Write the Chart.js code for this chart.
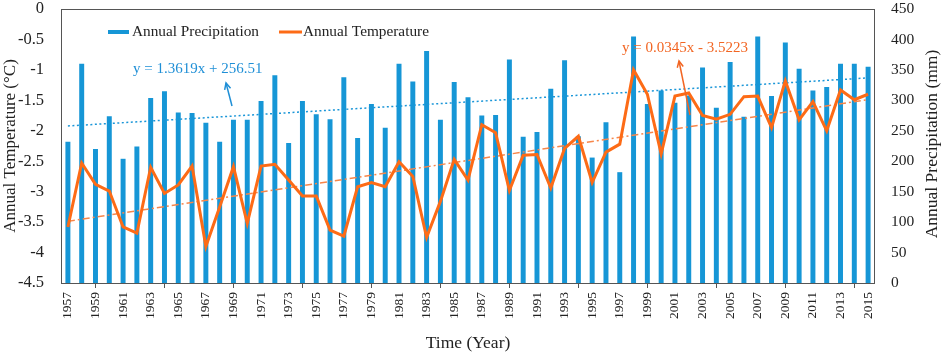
<!DOCTYPE html>
<html>
<head>
<meta charset="utf-8">
<script src="https://cdn.jsdelivr.net/npm/chart.js@4/dist/chart.umd.min.js"></script>
<style>
  html, body { margin: 0; padding: 0; background: #fff; }
  #wrap { width: 941px; height: 355px; }
</style>
</head>
<body>
<div id="wrap"><canvas id="chart" width="941" height="355"></canvas></div>
<script>
// data
const years = [];
for (let y = 1957; y <= 2015; y++) years.push(String(y));

const precipitation = [
  232, 360, 220, 274, 204, 224, 304, 315, 280, 279,
  263, 232, 268, 268, 299, 341, 230, 299, 277, 269,
  338, 238, 294, 255, 360, 331, 381, 268, 330, 305,
  275, 276, 367, 240, 248, 319, 366, 241, 206, 264,
  182, 405, 294, 316, 296, 308, 354, 288, 363, 273,
  405, 307, 395, 352, 316, 322, 360, 360, 355
];

const temperature = [
  -3.58, -2.53, -2.88, -2.99, -3.58, -3.68, -2.60, -3.03, -2.89, -2.58,
  -3.90, -3.25, -2.59, -3.52, -2.58, -2.55, -2.81, -3.07, -3.07, -3.63,
  -3.73, -2.92, -2.85, -2.92, -2.51, -2.75, -3.75, -3.16, -2.47, -2.81,
  -1.90, -2.03, -2.98, -2.40, -2.39, -2.94, -2.29, -2.09, -2.85, -2.35,
  -2.22, -1.00, -1.40, -2.38, -1.43, -1.38, -1.75, -1.81, -1.73, -1.44,
  -1.43, -1.95, -1.18, -1.82, -1.52, -2.00, -1.33, -1.49, -1.40
];

// trend equations printed on the chart (slope, intercept), x = 1..59
const precipTrend = [1.3619, 256.51];
const tempTrend = [0.0345, -3.5223];

const precipTicks = [0, 450, 50];
const tempTicks = [-4.5, 0, 0.5];

// only the two end points, the line is straight between them
function trendLine(eq) {
  const n = years.length;
  return years.map((_, i) => (i === 0 || i === n - 1) ? eq[0] * (i + 1) + eq[1] : null);
}

const FONT = "'Liberation Serif', 'Times New Roman', serif";
const BLUE = '#1696d6';
const ORANGE = '#fd6b16';
const TEXT = '#222';

// legend, equations, arrows, box and right axis title
const decor = {
  id: 'decor',
  afterDraw(chart) {
    const ctx = chart.ctx;
    const a = chart.chartArea;
    ctx.save();

    ctx.strokeStyle = '#555';
    ctx.lineWidth = 1;
    ctx.strokeRect(a.left + 0.5, a.top + 0.5, a.right - a.left - 1, a.bottom - a.top);

    // legend
    ctx.fillStyle = BLUE;
    ctx.fillRect(108, 30, 21, 4);
    ctx.strokeStyle = ORANGE;
    ctx.lineWidth = 3;
    ctx.beginPath(); ctx.moveTo(279, 32); ctx.lineTo(302, 32); ctx.stroke();
    ctx.font = '15.3px ' + FONT;
    ctx.fillStyle = TEXT;
    ctx.textBaseline = 'middle';
    ctx.textAlign = 'left';
    ctx.fillText('Annual Precipitation', 132, 32);
    ctx.fillText('Annual Temperature', 303, 32);

    // equations
    ctx.font = '15px ' + FONT;
    ctx.fillStyle = '#1f8fd6';
    ctx.fillText('y = 1.3619x + 256.51', 133, 69);
    ctx.fillStyle = '#f26522';
    ctx.fillText('y = 0.0345x - 3.5223', 622, 48);

    function arrow(x1, y1, x2, y2, col) {
      ctx.strokeStyle = col;
      ctx.lineWidth = 1.5;
      ctx.beginPath(); ctx.moveTo(x1, y1); ctx.lineTo(x2, y2); ctx.stroke();
      const ang = Math.atan2(y2 - y1, x2 - x1);
      ctx.beginPath();
      ctx.moveTo(x2 - 7 * Math.cos(ang - 0.45), y2 - 7 * Math.sin(ang - 0.45));
      ctx.lineTo(x2, y2);
      ctx.lineTo(x2 - 7 * Math.cos(ang + 0.45), y2 - 7 * Math.sin(ang + 0.45));
      ctx.stroke();
    }
    arrow(232, 106, 226, 83, '#1f8fd6');
    arrow(690, 115, 679, 61, '#f26522');

    // right axis title reads bottom to top like the left one
    ctx.translate(932, 144);
    ctx.rotate(-Math.PI / 2);
    ctx.textAlign = 'center';
    ctx.fillStyle = TEXT;
    ctx.font = '17.5px ' + FONT;
    ctx.fillText('Annual Precipitation (mm)', 0, 0);
    ctx.restore();
  }
};

function fitY(width) {
  return (s) => {
    s.width = width;
    s.paddingTop = 0;
    s.paddingBottom = 0;
  };
}

new Chart(document.getElementById('chart'), {
  type: 'bar',
  data: {
    labels: years,
    datasets: [
      {
        type: 'line',
        label: 'Annual Temperature',
        data: temperature,
        yAxisID: 'yT',
        borderColor: ORANGE,
        borderWidth: 3,
        pointRadius: 0,
        tension: 0,
        order: 1
      },
      {
        type: 'line',
        label: 'Temperature trend',
        data: trendLine(tempTrend),
        yAxisID: 'yT',
        borderColor: '#f7864a',
        borderWidth: 1.5,
        borderDash: [7, 3, 2, 3],
        pointRadius: 0,
        spanGaps: true,
        order: 2
      },
      {
        type: 'line',
        label: 'Precipitation trend',
        data: trendLine(precipTrend),
        yAxisID: 'yP',
        borderColor: '#1a96d8',
        borderWidth: 1.5,
        borderDash: [2, 2.5],
        pointRadius: 0,
        spanGaps: true,
        order: 3
      },
      {
        label: 'Annual Precipitation',
        data: precipitation,
        yAxisID: 'yP',
        backgroundColor: BLUE,
        barPercentage: 0.36,
        categoryPercentage: 1,
        order: 4
      }
    ]
  },
  options: {
    responsive: false,
    animation: false,
    layout: { padding: { top: 9, left: 0, right: 0, bottom: 0 } },
    plugins: {
      legend: { display: false },
      tooltip: { enabled: false }
    },
    scales: {
      x: {
        offset: true,
        grid: {
          offset: false,
          drawOnChartArea: false,
          tickLength: 5,
          color: (c) => ((c.index - 2) % 5 === 0 ? '#555' : 'rgba(0,0,0,0)')
        },
        border: { display: false },
        ticks: {
          autoSkip: false,
          minRotation: 90,
          maxRotation: 90,
          padding: 4,
          color: TEXT,
          font: { family: FONT, size: 13.5 },
          callback: (v, i) => (i % 2 === 0 ? years[i] : '')
        },
        title: {
          display: true,
          text: 'Time (Year)',
          color: TEXT,
          font: { family: FONT, size: 17.5 },
          padding: { top: 0, bottom: 1 }
        },
        afterFit: (s) => {
          s.height = 72;
          s.paddingLeft = 0;
          s.paddingRight = 0;
        }
      },
      yT: {
        position: 'left',
        min: tempTicks[0],
        max: tempTicks[1],
        grid: { display: false, drawTicks: false },
        border: { display: false },
        ticks: {
          stepSize: tempTicks[2],
          padding: 17,
          color: TEXT,
          font: { family: FONT, size: 16.5 },
          callback: (v) => String(Math.round(v * 10) / 10)
        },
        title: {
          display: true,
          text: 'Annual Temperature (°C)',
          color: TEXT,
          font: { family: FONT, size: 17 },
          padding: { top: 0, bottom: 0 }
        },
        afterFit: fitY(61)
      },
      yP: {
        position: 'right',
        min: precipTicks[0],
        max: precipTicks[1],
        grid: { display: false, drawTicks: false },
        border: { display: false },
        ticks: {
          stepSize: precipTicks[2],
          padding: 16,
          color: TEXT,
          font: { family: FONT, size: 15.5 }
        },
        afterFit: fitY(66)
      }
    }
  },
  plugins: [decor]
});
</script>
</body>
</html>
